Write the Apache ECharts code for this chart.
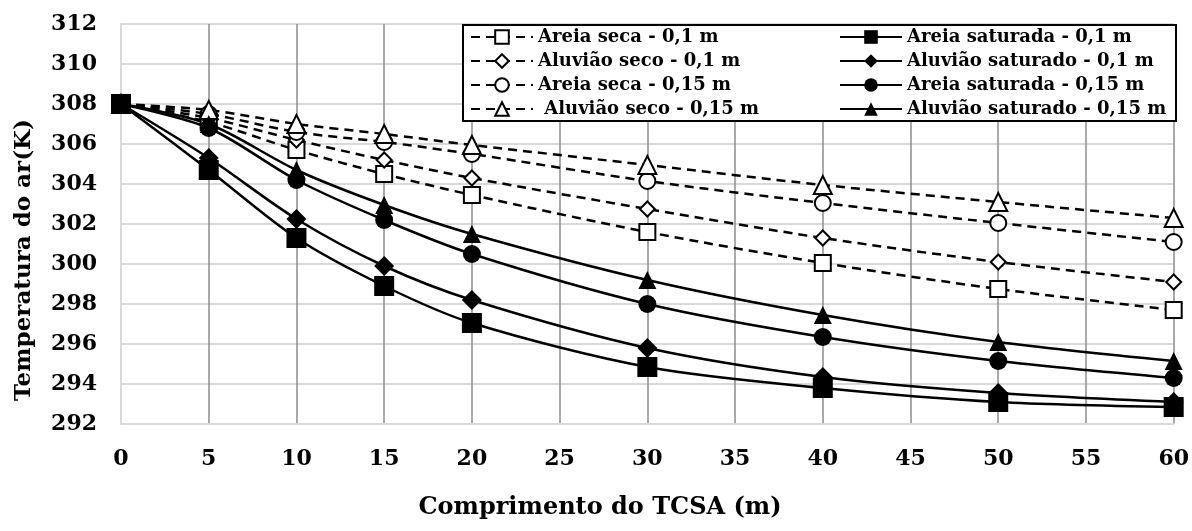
<!DOCTYPE html>
<html>
<head>
<meta charset="utf-8">
<script src="https://cdn.jsdelivr.net/npm/echarts@6/dist/echarts.min.js"></script>
<style>
  html, body { margin: 0; padding: 0; background: #ffffff; }
  #chart { width: 1192px; height: 531px; }
</style>
</head>
<body>
<div id="chart"></div>
<script>
// Tube length (m) at which air temperature was computed
var comprimento = [0, 5, 10, 15, 20, 30, 40, 50, 60];

// Air temperature (K) along the tube, per soil type and burial depth
var areiaSeca01      = [308, 307.1, 305.7, 304.5, 303.45, 301.6, 300.05, 298.75, 297.7];
var areiaSaturada01  = [308, 304.7, 301.3, 298.9, 297.05, 294.85, 293.8, 293.1, 292.85];
var aluviaoSeco01    = [308, 307.3, 306.2, 305.2, 304.3, 302.75, 301.3, 300.1, 299.1];
var aluviaoSaturado01 = [308, 305.3, 302.25, 299.9, 298.2, 295.8, 294.35, 293.55, 293.1];
var areiaSeca015     = [308, 307.5, 306.6, 306.1, 305.5, 304.15, 303.05, 302.05, 301.1];
var areiaSaturada015 = [308, 306.8, 304.2, 302.2, 300.5, 298.0, 296.35, 295.15, 294.3];
var aluviaoSeco015   = [308, 307.7, 307.0, 306.5, 305.95, 304.95, 303.95, 303.1, 302.3];
var aluviaoSaturado015 = [308, 307.0, 304.7, 302.95, 301.5, 299.2, 297.45, 296.1, 295.15];

// Series names, as shown in the legend
var nomes = [
  'Areia seca - 0,1 m', 'Areia saturada - 0,1 m',
  'Aluvião seco - 0,1 m', 'Aluvião saturado - 0,1 m',
  'Areia seca - 0,15 m', 'Areia saturada - 0,15 m',
  ' Aluvião seco - 0,15 m', 'Aluvião saturado - 0,15 m'
];

var FONT = 'DejaVu Serif';

function pares(valores) {
  return comprimento.map(function (x, i) { return [x, valores[i]]; });
}

// Dry soils: dashed line, hollow marker
function seco(nome, valores, simbolo, tamanho) {
  return {
    name: nome, type: 'line', data: pares(valores), smooth: 0.3,
    symbol: simbolo, symbolSize: tamanho, showAllSymbol: true,
    lineStyle: { color: '#000', width: 2.5, type: [9, 6] },
    itemStyle: { color: '#ffffff', borderColor: '#000', borderWidth: 2 },
    emphasis: { disabled: true }
  };
}

// Saturated soils: solid line, filled marker
function saturado(nome, valores, simbolo, tamanho) {
  return {
    name: nome, type: 'line', data: pares(valores), smooth: 0.3,
    symbol: simbolo, symbolSize: tamanho, showAllSymbol: true,
    lineStyle: { color: '#000', width: 2.5, type: 'solid' },
    itemStyle: { color: '#000', borderColor: '#000', borderWidth: 0 },
    emphasis: { disabled: true }
  };
}

var series = [
  seco(nomes[0], areiaSeca01, 'rect', 16),
  seco(nomes[2], aluviaoSeco01, 'diamond', 15),
  seco(nomes[4], areiaSeca015, 'circle', 16),
  seco(nomes[6], aluviaoSeco015, 'triangle', 18),
  saturado(nomes[7], aluviaoSaturado015, 'triangle', 18),
  saturado(nomes[5], areiaSaturada015, 'circle', 18),
  saturado(nomes[3], aluviaoSaturado01, 'diamond', 20),
  saturado(nomes[1], areiaSaturada01, 'rect', 20)
];

// Two-column legend: left column dry soils, right column saturated soils
var legendData = nomes.map(function (n, i) {
  return { name: n, textStyle: { width: (i % 2 === 0) ? 297 : 265 } };
});

var chart = echarts.init(document.getElementById('chart'), null, { renderer: 'canvas' });
chart.setOption({
  animation: false,
  backgroundColor: '#ffffff',
  grid: { left: 121, right: 16, top: 24, bottom: 107, containLabel: false },
  legend: {
    data: legendData,
    orient: 'horizontal',
    left: 463, top: 25, width: 712,
    padding: [2, 4, 2, 7],
    itemGap: 4,
    itemWidth: 62, itemHeight: 17,
    borderColor: '#000', borderWidth: 2,
    backgroundColor: '#ffffff',
    selectedMode: false,
    textStyle: {
      fontFamily: FONT, fontWeight: 'bold', fontSize: 18, color: '#000',
      lineHeight: 20, overflow: 'truncate'
    }
  },
  xAxis: {
    type: 'value', min: 0, max: 60, interval: 5,
    axisLine: { show: true, onZero: false, lineStyle: { color: '#d9d9d9', width: 2 } },
    axisTick: { show: false },
    axisLabel: {
      margin: 24,
      fontFamily: FONT, fontWeight: 'bold', fontSize: 22, color: '#000'
    },
    splitLine: { show: true, showMinLine: false, lineStyle: { color: '#8c8c8c', width: 1.5 } }
  },
  yAxis: {
    type: 'value', min: 292, max: 312, interval: 2,
    axisLine: { show: true, lineStyle: { color: '#d9d9d9', width: 2 } },
    axisTick: { show: false },
    axisLabel: { margin: 24, fontFamily: FONT, fontWeight: 'bold', fontSize: 22, color: '#000' },
    splitLine: { show: true, showMinLine: false, lineStyle: { color: '#d9d9d9', width: 2 } }
  },
  graphic: [
    {
      type: 'text', x: 600, y: 508, z: 10,
      style: {
        text: 'Comprimento do TCSA (m)', fill: '#000',
        font: 'bold 24px "' + FONT + '"', textAlign: 'center', textVerticalAlign: 'middle'
      }
    },
    {
      type: 'text', x: 24, y: 260, rotation: Math.PI / 2, z: 10,
      style: {
        text: 'Temperatura do ar(K)', fill: '#000',
        font: 'bold 23px "' + FONT + '"', textAlign: 'center', textVerticalAlign: 'middle'
      }
    }
  ],
  series: series
});
</script>
</body>
</html>
